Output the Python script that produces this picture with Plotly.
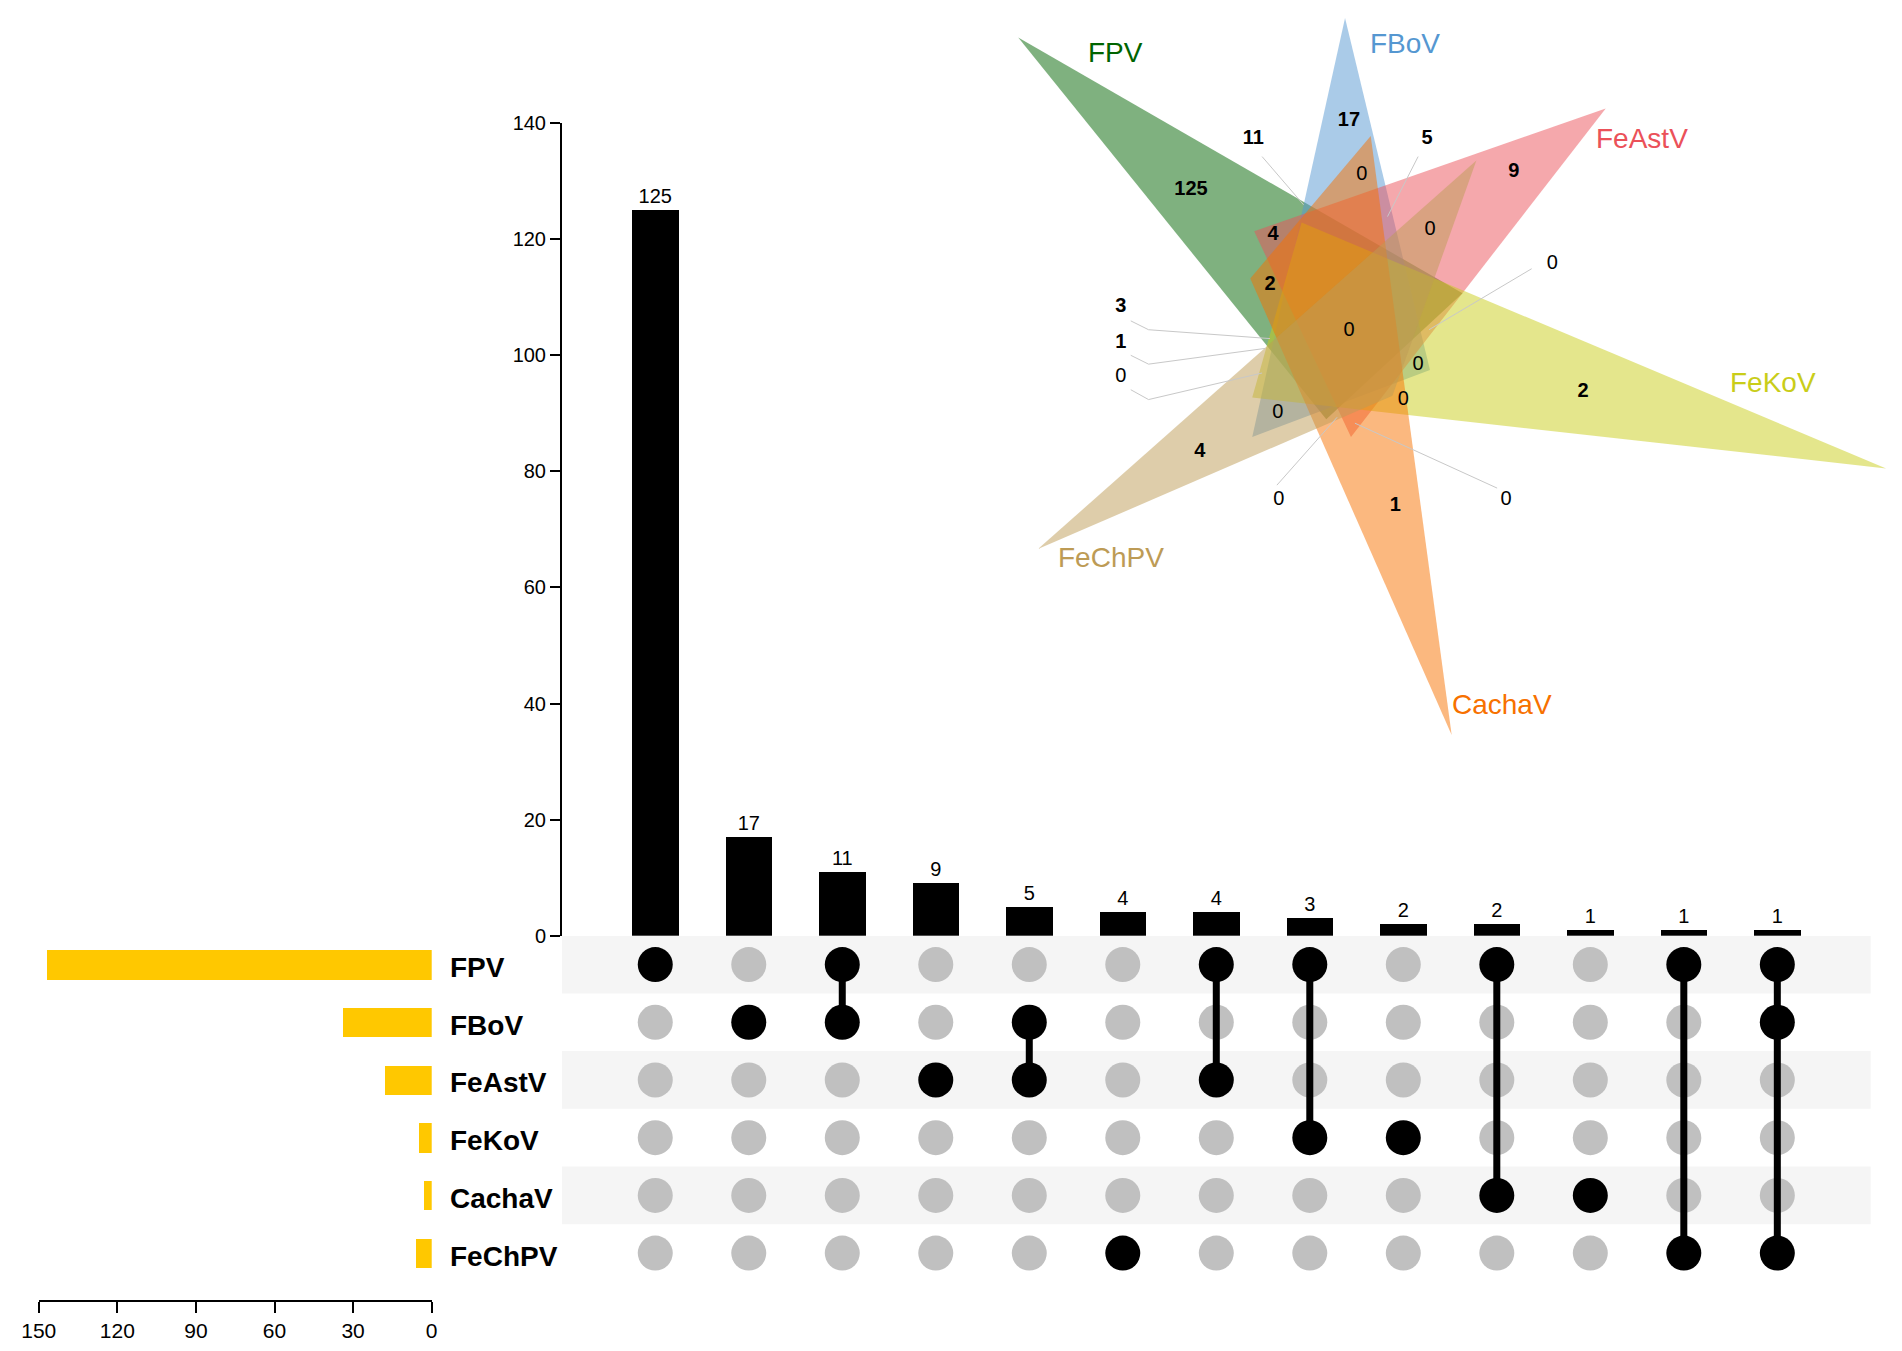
import plotly.graph_objects as go

W, H = 1902, 1351

# ---------------- data ----------------
set_names = ["FPV", "FBoV", "FeAstV", "FeKoV", "CachaV", "FeChPV"]
set_sizes = [147, 34, 18, 5, 3, 6]
inter_counts = [125, 17, 11, 9, 5, 4, 4, 3, 2, 2, 1, 1, 1]
inter_members = [
    ["FPV"], ["FBoV"], ["FPV", "FBoV"], ["FeAstV"], ["FBoV", "FeAstV"],
    ["FeChPV"], ["FPV", "FeAstV"], ["FPV", "FeKoV"], ["FeKoV"],
    ["FPV", "CachaV"], ["CachaV"], ["FPV", "FeChPV"], ["FPV", "FBoV", "FeChPV"],
]
count_ticks = [0, 20, 40, 60, 80, 100, 120, 140]
size_ticks = [0, 30, 60, 90, 120, 150]

# Venn region counts (bold = non-zero, regular = zero)
venn_nonzero = ["125", "11", "17", "5", "9", "4", "2", "3", "1", "4", "2", "1"]
venn_zero = ["0", "0", "0", "0", "0", "0", "0", "0", "0", "0"]

# ---------------- Venn geometry (pixel frame) ----------------
venn_tri = {
    "FPV": [(1013, 27), (1463, 287), (1325, 415)],
    "FBoV": [(1344, 7), (1250, 433), (1430, 365)],
    "FeAstV": [(1608, 99), (1252, 224), (1350, 433)],
    "FeKoV": [(1892, 465), (1300, 215), (1250, 393)],
    "CachaV": [(1452, 736), (1248, 272), (1370, 127)],
    "FeChPV": [(1033, 547), (1477, 152), (1392, 391)],
}
venn_base = {
    "FPV": (0, 100, 0), "FBoV": (85, 151, 209), "FeAstV": (235, 81, 89),
    "FeKoV": (201, 205, 25), "CachaV": (247, 113, 0), "FeChPV": (189, 155, 85),
}
venn_label_pos = {
    "FPV": (1112, 42), "FBoV": (1405, 33), "FeAstV": (1645, 130),
    "FeKoV": (1777, 378), "CachaV": (1503, 705), "FeChPV": (1107, 556),
}
nonzero_pos = [(1188, 182), (1251, 130), (1348, 112), (1427, 130), (1515, 164),
               (1271, 228), (1268, 279), (1117, 301), (1117, 337), (1197, 448),
               (1585, 387), (1395, 503)]
zero_pos = [(1117, 372), (1361, 167), (1430, 223), (1554, 257), (1348, 325),
            (1418, 360), (1403, 395), (1276, 409), (1277, 497), (1507, 497)]
leaders = [
    [(1260, 148), (1302, 197)],
    [(1418, 148), (1387, 209)],
    [(1127, 315), (1145, 324), (1268, 333)],
    [(1127, 350), (1145, 359), (1263, 343)],
    [(1127, 385), (1145, 395), (1260, 368)],
    [(1533, 262), (1429, 324)],
    [(1275, 482), (1336, 413)],
    [(1498, 485), (1354, 419)],
]

FONT = "Liberation Sans, Arial, sans-serif"
n_int = len(inter_counts)
n_set = len(set_names)

fig = go.Figure()

# intersection bars
fig.add_trace(go.Bar(
    x=list(range(n_int)), y=inter_counts, marker=dict(color="black", line=dict(width=0)),
    width=0.5, text=[str(v) for v in inter_counts], textposition="outside",
    textfont=dict(size=20, color="black", family=FONT), cliponaxis=False,
    constraintext="none", xaxis="x", yaxis="y", showlegend=False, hoverinfo="skip"))

# matrix dots and connectors
gx, gy, bx, by, lx, ly = [], [], [], [], [], []
for i, mem in enumerate(inter_members):
    rows = [set_names.index(m) for m in mem]
    for r in range(n_set):
        if r in rows:
            bx.append(i); by.append(r)
        else:
            gx.append(i); gy.append(r)
    if len(rows) > 1:
        lx += [i, i, None]
        ly += [min(rows), max(rows), None]

fig.add_trace(go.Scatter(x=gx, y=gy, mode="markers", marker=dict(size=35, color="#c0c0c0"),
                         xaxis="x2", yaxis="y2", showlegend=False, hoverinfo="skip"))
fig.add_trace(go.Scatter(x=lx, y=ly, mode="lines", line=dict(color="black", width=7),
                         xaxis="x2", yaxis="y2", showlegend=False, hoverinfo="skip"))
fig.add_trace(go.Scatter(x=bx, y=by, mode="markers", marker=dict(size=35, color="black"),
                         xaxis="x2", yaxis="y2", showlegend=False, hoverinfo="skip"))

# set size bars
fig.add_trace(go.Bar(
    y=list(range(n_set)), x=set_sizes, orientation="h", width=0.51,
    marker=dict(color="#FFC800", line=dict(width=0)),
    xaxis="x3", yaxis="y3", showlegend=False, hoverinfo="skip"))

# Venn triangles
for name in ["FPV", "FBoV", "FeAstV", "FeKoV", "CachaV", "FeChPV"]:
    pts = venn_tri[name]
    r, g, b = venn_base[name]
    fig.add_trace(go.Scatter(
        x=[p[0] for p in pts] + [pts[0][0]], y=[p[1] for p in pts] + [pts[0][1]],
        mode="lines", fill="toself", fillcolor=f"rgba({r},{g},{b},0.5)",
        line=dict(width=0, color="rgba(0,0,0,0)"),
        xaxis="x4", yaxis="y4", showlegend=False, hoverinfo="skip"))

# leader lines
llx, lly = [], []
for seg in leaders:
    llx += [p[0] for p in seg] + [None]
    lly += [p[1] for p in seg] + [None]
fig.add_trace(go.Scatter(x=llx, y=lly, mode="lines", line=dict(color="#c8c8c8", width=1),
                         xaxis="x4", yaxis="y4", showlegend=False, hoverinfo="skip"))

# Venn numbers
fig.add_trace(go.Scatter(
    x=[p[0] for p in nonzero_pos], y=[p[1] for p in nonzero_pos], mode="text",
    text=[f"<b>{t}</b>" for t in venn_nonzero],
    textfont=dict(size=20, color="black", family=FONT),
    xaxis="x4", yaxis="y4", showlegend=False, hoverinfo="skip"))
fig.add_trace(go.Scatter(
    x=[p[0] for p in zero_pos], y=[p[1] for p in zero_pos], mode="text",
    text=venn_zero, textfont=dict(size=20, color="black", family=FONT),
    xaxis="x4", yaxis="y4", showlegend=False, hoverinfo="skip"))

annotations = []
for name in set_names:
    r, g, b = venn_base[name]
    x, y = venn_label_pos[name]
    annotations.append(dict(x=x, y=y, xref="x4", yref="y4", text=name, showarrow=False,
                            font=dict(size=28, color=f"rgb({r},{g},{b})", family=FONT)))
for i, name in enumerate(set_names):
    annotations.append(dict(x=436 / W, y=i, xref="paper", yref="y2", text=f"<b>{name}</b>",
                            xanchor="left", yanchor="middle", yshift=-3, showarrow=False,
                            font=dict(size=28, color="black", family=FONT)))

shapes = []
for r in range(0, n_set, 2):
    shapes.append(dict(type="rect", xref="x2", yref="y2", x0=-1, x1=13, y0=r - 0.5, y1=r + 0.5,
                       fillcolor="#f5f5f5", line=dict(width=0), layer="below"))

xdom = [550.7 / W, 1876.5 / W]
fig.update_layout(
    width=W, height=H, margin=dict(l=0, r=0, t=0, b=0, pad=0),
    paper_bgcolor="white", plot_bgcolor="rgba(0,0,0,0)",
    font=dict(family=FONT, color="black"),
    bargap=0, showlegend=False,
    xaxis=dict(domain=xdom, range=[-1, 13], visible=False, anchor="y", fixedrange=True),
    yaxis=dict(domain=[1 - 940 / H, 1 - 114 / H], range=[0, 140], anchor="x",
               showline=True, linecolor="black", linewidth=1.5, ticks="outside",
               ticklen=10, tickwidth=1.5, tickcolor="black", tickvals=count_ticks,
               showgrid=False, zeroline=False, tickfont=dict(size=20, family=FONT)),
    xaxis2=dict(domain=xdom, range=[-1, 13], visible=False, anchor="y2"),
    yaxis2=dict(domain=[1 - 1292 / H, 1 - 940 / H], range=[5.5, -0.5], visible=False, anchor="x2"),
    xaxis3=dict(domain=[21 / W, 419 / W], range=[150, 0], anchor="y3",
                showline=True, linecolor="black", linewidth=1.5, ticks="outside",
                ticklen=11, tickwidth=1.5, tickcolor="black", tickvals=size_ticks,
                showgrid=False, zeroline=False, tickfont=dict(size=21, family=FONT)),
    yaxis3=dict(domain=[1 - 1310.7 / H, 1 - 940 / H], range=[5.818, -0.5], visible=False, anchor="x3"),
    xaxis4=dict(domain=[0, 1], range=[0, W], visible=False, anchor="y4"),
    yaxis4=dict(domain=[0, 1], range=[H, 0], visible=False, anchor="x4"),
    annotations=annotations, shapes=shapes,
)

fig.write_html(
    "out.html",
    config={"displayModeBar": False},
    post_script=(
        "document.documentElement.style.overflow='hidden';"
        "document.body.style.margin='0';document.body.style.padding='0';"
    ),
)
